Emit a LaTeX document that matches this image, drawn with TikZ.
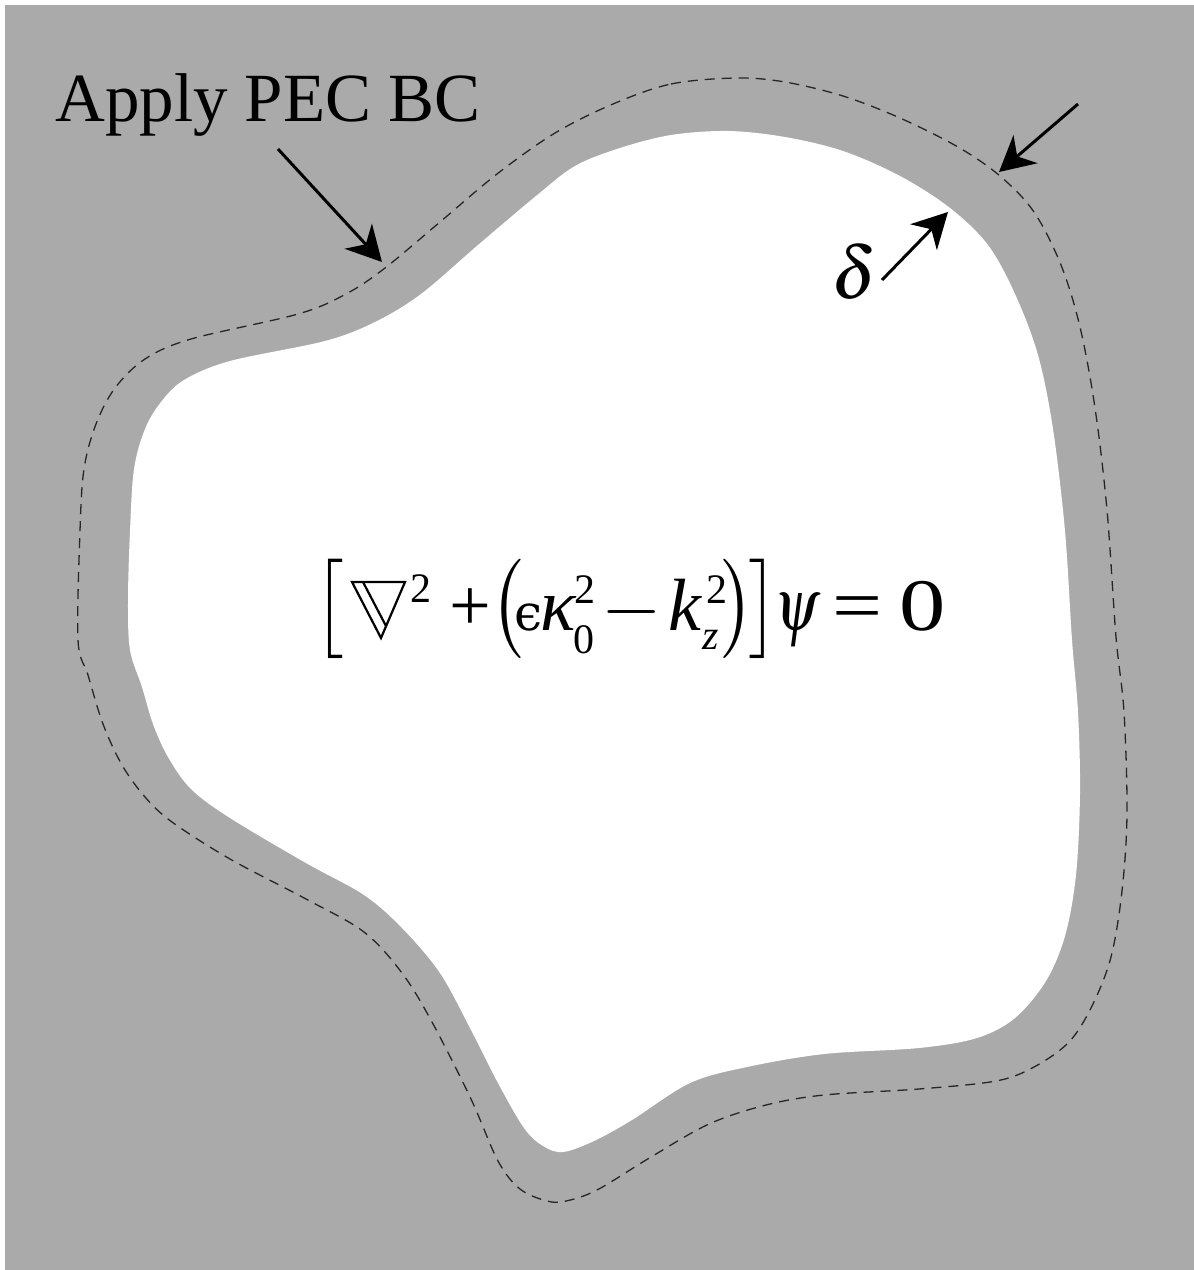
\documentclass[tikz,border=0pt]{standalone}
\usepackage{mathptmx}
\usepackage{fontspec}
\setmainfont{Liberation Serif}
\newfontfamily\dejaserif{DejaVu Serif}
\usetikzlibrary{arrows.meta}
\definecolor{bggray}{RGB}{169,170,169}
\begin{document}
\begin{tikzpicture}[x=1pt,y=-1pt,
  arr/.style={line width=3pt,-{Stealth[length=35pt,width=37pt,inset=11pt]}},
  lbl/.style={inner sep=0pt,font=\fontsize{69}{80}\selectfont},
  eqn/.style={inner sep=0pt,anchor=base west,font=\fontsize{74}{84}\selectfont},
  eqi/.style={eqn,font=\fontsize{74}{84}\selectfont\itshape},
  eqs/.style={inner sep=0pt,anchor=base west,font=\fontsize{42}{46}\selectfont},
  bound/.style={dash pattern=on 10pt off 7pt,line width=1.3pt,black!85}]
\useasboundingbox (0,0) rectangle (1194,1270);
\fill[bggray] (5,5) rectangle (1194,1270);
\fill[white] plot[smooth cycle,tension=0.55] coordinates {
(620,148)(671,135)(728,131)(785,137)(843,151)(900,176)(950,208)(988,245)(1015,294)(1038,355)(1053,429)(1065,531)(1072,640)(1078,712)(1080,793)(1076,875)(1065,936)(1046,981)(1015,1018)(977,1038)(919,1048)(824,1054)(747,1067)(690,1083)(632,1120)(594,1141)(563,1152)(543,1146)(524,1128)(498,1083)(471,1030)(440,973)(402,928)(364,895)(306,863)(230,818)(191,789)(168,757)(153,724)(142,687)(130,650)(128,600)(130,531)(134,469)(145,429)(161,402)(184,380)(230,361)(325,341)(375,322)(421,294)(478,245)(536,196)(575,166)};
\draw[bound] plot[smooth cycle,tension=0.55] coordinates {
(613,104)(671,84)(736,78)(785,82)(843,96)(900,118)(958,147)(1000,176)(1034,212)(1061,265)(1080,327)(1095,408)(1107,510)(1116,637)(1124,712)(1127,814)(1122,891)(1111,957)(1092,1006)(1069,1042)(1034,1067)(996,1081)(919,1089)(824,1095)(766,1105)(709,1124)(651,1157)(597,1190)(566,1201)(547,1201)(520,1189)(498,1161)(471,1099)(432,1022)(402,973)(364,932)(306,899)(230,859)(172,822)(145,797)(122,765)(103,724)(88,675)(78,640)(80,531)(84,469)(96,424)(115,388)(145,359)(191,339)(298,314)(346,294)(385,268)(440,222)(497,174)(555,133)};
\node[lbl,anchor=base west] (apply) at (55,121) {Apply PEC BC};
% equation, glyph by glyph
\node[eqn] (eqlb) at (313,630) {\scalebox{1}[1.12]{$\bigl[$}};
\draw[line width=2.2pt,line join=miter] (352,582) -- (405,582) -- (381,638) -- cycle;
\draw[line width=2.2pt] (363,582) -- (386,626);
\node[eqs] (eqsa) at (410,602) {2};
\node[eqn] (eqplus) at (449,630) {+};
\node[eqn] (eqlp) at (490,630) {\scalebox{1}[1.12]{$\bigl($}};
\node[eqn,font=\fontsize{50}{56}\selectfont\dejaserif] (eqeps) at (514,630) {ϵ};
\node[eqi] (eqkap) at (540,630) {κ};
\node[eqs] (eqsb) at (574,603) {2};
\node[eqs] (eqsc) at (573,653) {0};
\node[eqn] (eqminus) at (601,630) {\scalebox{1.05}[1]{$-$}};
\node[eqi] (eqk) at (668,630) {k};
\node[eqs] (eqsd) at (706,603) {2};
\node[eqs,font=\fontsize{42}{46}\selectfont\itshape] (eqse) at (702,649) {z};
\node[eqn] (eqrp) at (720,630) {\scalebox{1}[1.12]{$\bigr)$}};
\node[eqn] (eqrb) at (748,630) {\scalebox{1}[1.12]{$\bigr]$}};
\node[eqn] (eqpsi) at (774,630) {\scalebox{0.8}[1]{$\psi$}};
\node[eqn] (eqeq) at (832,630) {\scalebox{1.2}[1]{=}};
\node[eqn] (eqzero) at (899,630) {\scalebox{1.25}[1]{0}};
\node[eqn,anchor=base] (delta) at (854,298) {$\delta$};
\coordinate (a1s) at (278,149);
\coordinate (a1e) at (382,262);
\coordinate (a2s) at (1078,104);
\coordinate (a2e) at (999,172);
\coordinate (a3s) at (882,280);
\coordinate (a3e) at (948,212);
\draw[arr] (a1s) -- (a1e);
\draw[arr] (a2s) -- (a2e);
\draw[arr] (a3s) -- (a3e);
\end{tikzpicture}
\end{document}
